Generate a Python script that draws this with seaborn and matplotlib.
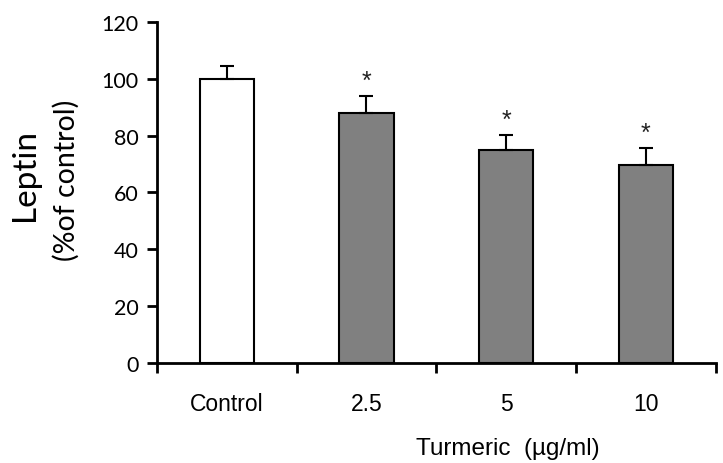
import numpy as np
import pandas as pd
import matplotlib
matplotlib.use('Agg')
import matplotlib.pyplot as plt
import seaborn as sns

groups = ['Control', '2.5', '5', '10']
leptin = [100.0, 87.9, 75.1, 69.7]
sd = [4.5, 6.0, 5.2, 6.0]
signif = ['', '*', '*', '*']
bar_colors = ['#ffffff', '#808080', '#808080', '#808080']

df = pd.DataFrame({'group': groups, 'leptin': leptin})

sns.set_style('white', {'text.color': 'black', 'xtick.color': 'black', 'ytick.color': 'black'})
plt.rcParams['font.family'] = ['Liberation Sans', 'DejaVu Sans']

fig = plt.figure(figsize=(7.23, 4.64), dpi=100)
ax = fig.add_axes([0.217, 0.2155, 0.773, 0.735])

sns.barplot(data=df, x='group', y='leptin', hue='group', palette=bar_colors,
            legend=False, width=0.39, edgecolor='black', linewidth=1.5, ax=ax)

x = np.arange(len(groups))
ax.errorbar(x, leptin, yerr=[np.zeros(len(sd)), sd], fmt='none', ecolor='black',
            elinewidth=1.5, capsize=5, capthick=1.5)
for xi, v, e, s in zip(x, leptin, sd, signif):
    if s:
        ax.text(xi, v + e + 1.2, s, ha='center', va='bottom', fontsize=18, color='#222222')

ax.set_xlim(-0.5, len(groups) - 0.5)
ax.set_ylim(0, 120)
ax.set_yticks(np.arange(0, 121, 20))
ax.set_yticklabels([str(t) for t in range(0, 121, 20)], family='Lato', fontsize=15.5)

# boundary ticks on the category axis, labels centered
ax.set_xticks(np.arange(-0.5, len(groups), 1.0))
ax.set_xticklabels([])
ax.set_xticks(x, minor=True)
ax.set_xticklabels(groups, minor=True, fontsize=16.5)
ax.tick_params(axis='x', which='major', direction='out', length=7, width=2, bottom=True)
ax.tick_params(axis='x', which='minor', length=0, pad=21)
ax.tick_params(axis='y', direction='out', length=7, width=2, left=True, pad=6)

for side in ['top', 'right']:
    ax.spines[side].set_visible(False)
for side in ['left', 'bottom']:
    ax.spines[side].set_linewidth(2)
    ax.spines[side].set_color('black')

ax.set_xlabel('')
ax.set_ylabel('')
fig.text(508 / 723, 1 - 449 / 464, 'Turmeric  (µg/ml)', ha='center', va='center', fontsize=17.5)
fig.text(25 / 723, 1 - 175 / 464, 'Leptin', rotation=90, ha='center', va='center',
         family='Lato', fontsize=24)
fig.text(66 / 723, 1 - 180 / 464, '(%of control)', rotation=90, ha='center', va='center',
         family='Lato', fontsize=20.5)

plt.savefig('out.png', dpi=100)
